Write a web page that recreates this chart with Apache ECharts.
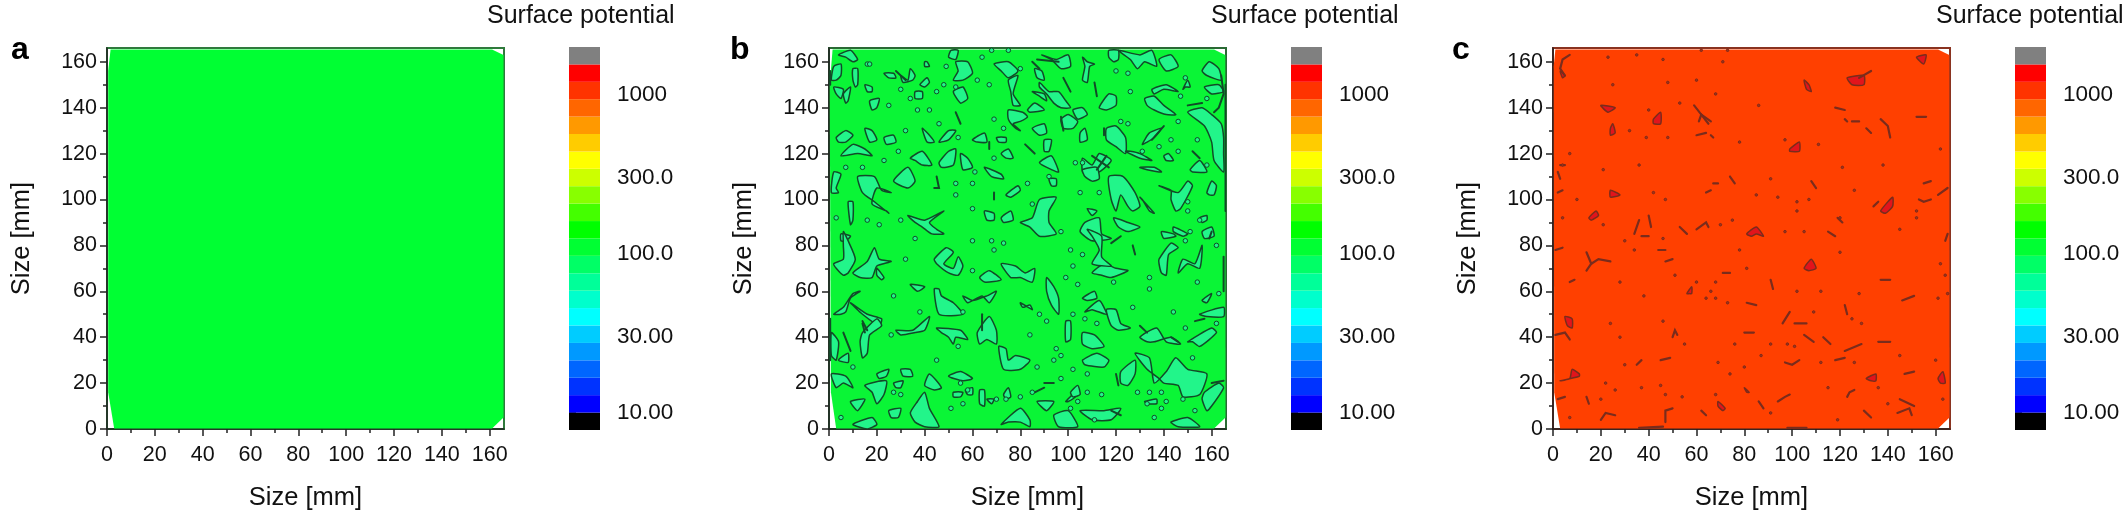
<!DOCTYPE html>
<html style="height: 100%">
<head>
<meta charset="utf-8">
<script src="https://cdn.jsdelivr.net/npm/echarts@6/dist/echarts.min.js"></script>
<title>Surface potential maps</title>
</head>
<body style="height: 100%; margin: 0; background: #fff">
<div id="container" style="width: 2125px; height: 512px"></div>
<script type="text/javascript">
// all map shapes are flat x,y lists in mm
const panelLetters = ['a', 'b', 'c'];
const majorTicks = [0, 20, 40, 60, 80, 100, 120, 140, 160];
const minorTicks = [10, 30, 50, 70, 90, 110, 130, 150];
const sizeMax = 166;

// colour bar: band edges in potential units, bottom to top
const bandEdges = [7.77, 10, 12.87, 16.55, 21.3, 27.4, 35.3, 45.4, 58.4, 75.1, 96.7, 124.4, 160, 206, 265, 341, 438, 564, 726, 934, 1201, 1545, 1988];
const bandColors = ['#000000', '#0000ff', '#0033ff', '#0066ff', '#0099ff', '#00ccff', '#00ffff', '#00ffcc', '#00ff99', '#00ff66', '#00ff33', '#00ff00', '#44ff00', '#88ff00', '#ccff00', '#ffff00', '#ffcc00', '#ff9900', '#ff6600', '#ff3300', '#ff0000', '#808080'];
const barTicks = [10, 30, 100, 300, 1000];
const barLabels = { 10: '10.00', 30: '30.00', 100: '100.0', 300: '300.0', 1000: '1000' };

const outlineA = [0.5, 156, 1.5, 165.4, 161, 165.4, 165.8, 163, 165.8, 5, 161, 0.2, 3, 0.2, 0.5, 16];
const outlineB = [0.3, 150, 1.5, 165.4, 161, 165.4, 165.7, 163, 165.8, 5, 161, 0.2, 3, 0.2, 0.8, 16];
const outlineC = [0.3, 158, 1, 165.4, 161, 165.4, 165.7, 163, 165.8, 5, 161, 0.2, 3, 0.2, 0.5, 16];

const islandsB = [
  [4,163,9,165,12,161,10,160,7,162], [51,165,54,165,53,161,50,162], [2,158,5,159,5,154,3,152,1,152], [10,157,12,157,12,150,11,149,10,152],
  [23,155,27,155,28,153,25,153], [30,154,33,152,34,157,36,154,35,152,31,151], [38,150,41,153,42,151,40,149], [40,160,41,160,42,158,40,158],
  [53,160,58,160,60,155,56,152,52,152,54,156], [69,159,75,160,79,156,75,153,72,156], [75,152,79,154,77,146,80,141,77,141,76,147],
  [89,163,95,161,100,163,101,158,97,157,93,161], [86,157,89,156,90,152,87,153], [106,162,108,160,111,159,109,158,108,151,106,152,107,158],
  [117,165,121,165,121,161,119,160,117,162], [121,165,130,163,135,165,137,158,132,160,129,157,126,161], [138,161,143,163,146,158,141,156],
  [156,156,159,160,163,157,164,152,158,154], [157,149,163,150,165,147,160,146], [135,148,141,150,146,147,140,148,136,146], [148,148,150,152,151,149,149,149],
  [132,144,136,145,140,141,145,137,141,137,136,139,133,141], [113,140,117,146,120,145,120,141,116,139], [88,151,92,147,96,147,99,143,101,140,97,140,94,142,91,146,88,149],
  [85,147,90,146,91,143,88,145], [17,143,21,144,20,140,18,139], [52,147,56,149,58,144,55,142], [36,147,39,147,39,144,36,144],
  [2,149,6,148,5,144,3,146], [6,146,9,149,8,143,7,142], [15,150,18,149,18,147,16,147], [75,139,81,138,83,136,80,134,77,133,80,130,78,131,75,135],
  [83,139,86,142,90,139,84,138], [102,139,106,140,108,137,104,135], [97,135,100,137,104,134,102,131,98,131], [85,131,90,133,91,129,88,128],
  [105,129,107,131,108,126,105,125], [116,131,120,132,124,127,124,120,120,123,116,126], [131,124,134,129,139,131,136,127,133,125],
  [150,138,156,140,160,137,164,133,165,127,165,120,165,112,161,117,160,125,157,132], [3,127,7,130,10,128,7,125,4,125], [15,131,18,130,20,126,17,125],
  [23,127,27,128,28,125,24,124], [39,131,42,128,44,125,41,125], [46,125,50,130,53,130,50,126], [60,126,65,129,66,125,62,125], [70,127,74,127,74,125,71,125],
  [5,119,10,124,15,122,18,119,12,120], [34,118,39,121,43,115,39,115,36,117], [46,116,50,121,53,122,52,115,47,114], [55,120,58,118,60,114,56,113],
  [72,120,75,122,77,118,74,118], [90,126,93,126,92,121,90,121], [88,116,93,119,96,112,93,113], [106,118,110,115,113,120,118,117,113,112,108,111,106,112],
  [124,121,130,118,135,117,130,120,126,121], [140,119,142,120,144,117,141,117], [151,113,155,117,158,112,152,112], [130,114,136,114,139,112,133,113],
  [65,114,72,111,73,109,68,110], [2,112,5,111,3,105,4,103,1,103], [12,110,19,110,22,104,26,103,20,105,18,98,24,95,25,94,19,99,14,103], [27,108,33,114,36,108,33,105],
  [74,102,79,106,80,104,76,101], [92,109,95,109,95,106,93,106], [106,113,112,114,113,109,110,108,107,110], [117,110,123,110,128,103,130,97,127,95,125,97,122,102,120,95,118,100],
  [138,106,146,103,150,108,152,106,147,96,145,95,143,100,143,104], [158,103,160,108,162,106,161,102,159,102], [130,101,136,94,134,95,131,100], [108,96,112,95,110,93],
  [119,92,125,90,130,88,125,86,121,88], [107,90,113,92,114,85,118,83,110,82,105,86], [80,90,85,92,88,100,95,101,92,95,92,90,95,85,88,84,84,88],
  [33,93,40,91,48,95,42,90,45,87,48,85,43,85,39,88,36,90], [8,99,10,99,10,91,9,89], [65,95,69,94,69,91,66,91], [72,92,76,95,77,91,73,90],
  [139,86,144,85,145,84,140,83], [144,88,150,85,148,84,144,86], [5,85,9,84,7,82,5,82], [155,92,158,93,158,91,156,90], [156,86,160,88,161,84,157,83],
  [6,86,8,82,11,74,8,68,6,67,3,70,2,72,6,74,6,80], [10,68,16,73,19,79,21,74,26,73,20,71,18,66,13,66], [20,70,23,66,22,65,20,67], [34,63,40,62,37,60],
  [44,74,49,79,52,77,48,72,52,70,54,75,56,71,54,67,50,68,45,72], [63,66,67,69,72,65,65,64], [72,72,78,71,82,68,86,70,85,64,80,66,76,66], [91,66,94,62,96,57,96,50,93,54,91,60],
  [106,57,111,60,112,57,108,56], [110,68,115,72,120,70,125,69,118,66,114,67], [138,74,143,81,146,79,142,76,141,67,139,68,138,72], [146,68,150,72,155,70,156,80,153,72,148,74],
  [108,87,114,84,114,75,118,71,110,72,113,78,110,84], [44,61,46,50,56,50,52,55,47,58,46,61], [56,58,60,56,66,58,70,60,67,55,64,58,58,55], [2,50,6,53,10,59,13,60,9,57,7,51,5,50],
  [9,55,16,50,22,48,21,45,14,50], [14,42,20,48,22,45,17,41,16,33,14,31,13,38], [28,43,35,43,42,49,40,43,36,42,30,41], [45,44,55,43,58,39,53,40,52,37,50,40,47,42],
  [62,42,67,49,70,43,70,37,66,39,63,37], [71,36,73,26,80,26,84,30,78,32,75,30,74,35], [80,55,85,52,84,54,81,53], [99,47,101,47,101,39,99,38], [106,42,111,41,115,36,110,35,106,37],
  [106,30,112,33,117,30,115,27,107,28], [116,52,120,52,122,46,126,44,121,43,118,45], [107,51,113,56,116,50,110,52], [122,25,128,30,128,24,125,19,122,20],
  [128,33,134,31,136,20,141,25,145,31,150,26,158,24,155,15,148,14,146,19,140,20,138,22,133,26], [157,16,163,20,165,18,160,10,158,8,156,13], [155,50,165,53,165,49,158,49],
  [150,38,160,44,162,42,155,36,152,38], [130,40,137,44,141,38,147,37,143,40,136,38,133,38], [15,19,24,21,23,15,20,11,18,16], [1,24,7,23,10,18,6,20,3,18], [9,12,15,13,12,8,10,10],
  [34,7,37,12,40,16,42,9,46,1,40,1,36,3], [10,2,18,5,20,2,16,0], [25,8,30,9,29,5,26,5], [40,19,42,24,47,18,44,17], [50,23,55,25,60,22,56,21], [63,17,65,17,65,10,63,11],
  [72,2,80,9,84,4,84,1,80,3,75,3], [87,12,94,12,91,8], [94,6,100,8,104,1,96,1], [105,8,115,8,122,9,118,4,110,4], [99,12,104,17,103,14,100,12], [143,3,150,5,155,1,146,1],
  [27,20,31,21,30,18,28,18], [52,16,56,16,55,14,52,14], [57,17,60,18,60,15,58,15], [66,13,69,13,68,11], [73,15,75,18,76,14,74,13], [101,16,104,19,105,15,102,14],
  [132,12,137,13,137,11,133,11], [156,56,160,59,158,55], [1,42,4,38,3,30,1,32], [4,30,8,33,8,29], [20,24,25,26,24,23,21,22], [30,26,34,26,35,23,31,23]
];
const cracksB = [
  [85,160,88,157], [87,161,96,160], [98,153,101,147], [111,151,112,145], [150,141,156,142], [164,154,165,146,163,140,161,138], [115,131,115,128], [97,136,98,130],
  [53,138,55,133], [67,125,67,122], [45,110,46,105,44,105], [110,119,117,114], [116,119,112,113], [82,124,86,120], [152,121,155,118], [69,103,69,100], [135,126,140,132],
  [160,86,159,83], [14,47,16,43], [6,42,9,34], [64,50,64,43], [120,24,121,19], [127,80,128,76], [153,47,157,48], [130,45,133,42], [143,40,146,38], [14,46,15,42],
  [165,75,165,60], [118,81,122,84], [90,20,94,20], [28,156,32,152], [86,16,90,18], [118,8,122,6], [160,20,165,21], [0.5,150,0.5,156], [0.5,30,0.5,48], [165.8,95,165.8,150]
];
const pitsB = [
  [16,159],[49,158],[62,152],[67,150],[48,150],[53,149],[45,147],[30,148],[34,144],[25,141],[37,139],[42,139],[46,133],[32,130],[54,127],[29,121],[23,117],[7,114],[14,114],
  [61,112],[69,118],[73,131],[69,135],[60,107],[53,107],[53,102],[60,96],[83,107],[85,98],[103,116],[106,116],[92,110],[105,103],[113,103],[138,123],[143,126],[154,126],
  [146,121],[131,121],[158,115],[150,99],[150,95],[122,134],[125,133],[146,134],[126,147],[125,155],[120,156],[158,144],[147,145],[149,153],[80,157],[64,162],[68,165],
  [75,165],[17,159],[97,86],[151,86],[155,91],[3,92],[16,91],[30,91],[21,89],
  [32,74],[36,83],[60,82],[69,78],[73,81],[101,78],[102,71],[106,76],[68,82],[60,69],[99,66],[104,63],[119,64],[134,66],[134,61],[163,59],[162,80],[149,82],[27,58],[38,51],
  [56,51],[88,50],[91,47],[102,50],[107,48],[112,46],[127,53],[144,51],[149,44],[162,46],[84,41],[26,41],[54,36],[95,35],[97,32],[94,30],[102,26],[87,27],[10,27],[45,30],
  [152,31],[108,24],[97,22],[55,20],[30,15],[27,16],[58,17],[70,13],[74,13],[80,14],[85,16],[114,15],[129,16],[134,16],[139,16],[141,12],[133,11],[148,13],[136,5],[139,9],
  [153,8],[5,5],[56,11],[51,9],[104,12],[108,16],[101,9],[111,4],[154,64]
];

const islandsC = [
  [152,162,156,163,155,159], [123,153,130,154,130,150,125,150], [105,152,107,150,108,147,106,148], [20,141,26,140,23,138], [42,135,45,138,45,133,42,133],
  [24,131,25,133,26,129,24,128], [99,122,103,125,103,121,99,121], [24,104,28,102,24,101], [15,92,18,95,19,93,16,91], [5,49,8,48,8,44,6,45],
  [3,21,7,22,8,26,11,24,11,23], [137,95,142,101,142,97,139,94], [81,85,85,88,88,84,85,85,83,84], [105,70,108,74,110,70,107,69], [56,59,58,62,58,59,57,59],
  [131,22,135,24,135,21,133,21], [161,22,163,25,164,20,162,20], [69,12,72,9,71,8,69,10], [80,18,82,16,81,16], [3,156,5,154,4,153]
];
const cracksC = [
  [7,163,4,161,3,157,5,154], [128,153,133,156], [59,141,62,137,66,134], [62,137,61,134], [62,137,65,133], [137,135,140,132,141,127], [131,131,133,129], [118,140,122,139],
  [122,135,123,134], [125,134,128,134], [152,136,156,136], [60,128,64,129], [66,128,67,127], [74,110,76,107], [14,77,16,72,19,74,24,73], [16,72,14,69], [34,85,36,91],
  [40,93,41,88], [53,88,56,85], [60,87,64,90,65,88], [37,84,40,84], [44,78,47,78], [47,73,50,74], [71,68,74,68], [91,65,92,61], [146,56,151,58], [122,54,123,50], [96,46,99,51],
  [101,46,106,46], [81,55,85,54], [80,42,84,42], [50,40,51,43,52,41], [105,41,109,38], [113,40,116,37], [122,34,129,37], [136,38,141,38], [97,29,100,28,103,30], [118,30,122,31],
  [45,30,49,31], [147,24,151,25], [35,28,37,30], [14,14,15,11], [20,4,22,7,26,6], [47,3,47,8,50,9], [62,8,64,6], [86,12,88,9], [94,12,97,14,99,15], [123,14,124,16,126,17],
  [130,8,133,5], [145,13,151,10], [144,7,149,9,150,6], [2,13,5,14], [1,41,5,42,7,39], [3,115,5,115], [2,112,3,109], [2,103,4,104], [1,78,4,79], [7,64,9,65], [153,100,155,99,158,100],
  [161,102,165,105], [137,65,141,65], [155,107,158,108], [108,108,110,105], [64,103,66,104], [67,107,69,107], [134,97,136,99], [164,82,165,85], [119,92,121,90], [115,86,118,84],
  [36,0.5,46,1], [98,0.5,106,0.5]
];
const pitsC = [
  [23,162],[35,163],[46,161],[62,165],[73,165],[71,160],[60,152],[48,151],[25,150],[68,146],[86,141],[53,142],[40,139],[32,130],[48,127],[39,127],[78,125],[97,126],[111,124],
  [121,114],[138,115],[162,122],[21,113],[36,115],[7,120],[4,115],[91,109],[42,103],[10,100],[47,100],[94,101],[102,99],[107,100],[102,95],[85,102],[126,104],[4,92],[21,89],
  [70,89],[75,91],[97,86],[105,86],[120,92],[152,95],[152,92],[145,87],[30,82],[34,78],[46,83],[78,78],[120,77],[81,70],[162,72],[164,67],[28,64],[51,67],[68,64],[60,64],[66,60],
  [68,57],[64,57],[73,55],[102,60],[38,58],[128,59],[165,59],[161,57],[112,60],[109,51],[46,47],[24,46],[125,48],[129,46],[28,40],[55,37],[76,37],[91,37],[98,37],[101,36],[145,32],
  [69,29],[112,29],[126,29],[30,28],[87,32],[160,30],[80,27],[74,24],[22,20],[26,17],[37,18],[45,19],[47,15],[136,18],[20,13],[54,14],[68,15],[115,18],[140,11],[163,13],[119,4],[7,5],[91,7]
];

const panelStyles = [
  { base: '#00ff33', frame: '#2f7a3c', outline: outlineA, islands: [], cracks: [], pits: [], fill: '#22f58a', edge: '#14502c', pit: 2, pitFill: '#22f58a', crack: 2 },
  { base: '#0af536', frame: '#2a6a34', outline: outlineB, islands: islandsB, cracks: cracksB, pits: pitsB, fill: '#22f58a', edge: '#124a28', pit: 4.5, pitFill: '#22f58a', crack: 2 },
  { base: '#ff4000', frame: '#8a3320', outline: outlineC, islands: islandsC, cracks: cracksC, pits: pitsC, fill: '#e2141c', edge: '#7a2c1c', pit: 2.5, pitFill: '#a83018', crack: 2.2 }
];
const mapLefts = [107, 829, 1553];
const barLefts = [569, 1291, 2015];
const titleLefts = [482, 1206, 1931];
const letterLefts = [6, 725, 1447];

const font = '"Liberation Sans", Arial, sans-serif';
const pairs = flat => flat.reduce((out, v, i) => { if (i % 2 === 0) out.push([v, flat[i + 1]]); return out; }, []);

function shapeSeries(xi, polys, closed, fill, stroke, width, z, smooth) {
  return {
    type: 'custom', xAxisIndex: xi, yAxisIndex: xi, silent: true, z: z, clip: true,
    data: polys.map((p, i) => [i]),
    renderItem: (params, api) => {
      const points = pairs(polys[params.dataIndex]).map(p => api.coord(p));
      return {
        type: closed ? 'polygon' : 'polyline',
        shape: { points: points, smooth: smooth },
        style: closed ? { fill: fill, stroke: stroke, lineWidth: width, lineJoin: 'round' } : { fill: null, stroke: stroke, lineWidth: width, lineCap: 'round' }
      };
    }
  };
}

const grid = [], xAxis = [], yAxis = [], series = [], title = [];

function addAxis(list, grid_i, pos, withLabels, name) {
  const ticks = withLabels ? majorTicks : minorTicks;
  list.push({
    type: 'value', gridIndex: grid_i, position: pos, min: 0, max: sizeMax, interval: 20,
    name: name, nameLocation: 'middle', nameGap: pos === 'bottom' ? 56 : 72,
    nameTextStyle: { fontFamily: font, fontSize: 25.5, color: '#111' },
    splitLine: { show: false },
    axisLine: { show: withLabels, onZero: false, lineStyle: { color: '#222', width: 1.5 } },
    axisTick: { show: true, length: withLabels ? 7 : 4, customValues: ticks, lineStyle: { color: '#222', width: 1.5 } },
    axisLabel: { show: withLabels, customValues: withLabels ? majorTicks : [], margin: pos === 'bottom' ? 15 : 10, fontFamily: font, fontSize: 21.5, color: '#111' }
  });
}

panelStyles.forEach((style, i) => {
  // map grid plus a second axis pair that only carries the short ticks
  grid.push({ left: mapLefts[i], width: 397, top: 48, height: 381, outerBoundsMode: 'none', show: true, borderColor: style.frame, borderWidth: 2, backgroundColor: '#fff' });
  grid.push({ left: mapLefts[i], width: 397, top: 48, height: 381, outerBoundsMode: 'none' });
  grid.push({ left: barLefts[i], width: 31, top: 47, height: 383, outerBoundsMode: 'none' });
  const g = i * 3;
  addAxis(xAxis, g, 'bottom', true, 'Size [mm]');
  addAxis(yAxis, g, 'left', true, 'Size [mm]');
  addAxis(xAxis, g + 1, 'bottom', false, '');
  addAxis(yAxis, g + 1, 'left', false, '');
  xAxis.push({ type: 'value', gridIndex: g + 2, min: 0, max: 1, show: false });
  yAxis.push({
    type: 'log', gridIndex: g + 2, position: 'right', min: bandEdges[0], max: bandEdges[bandEdges.length - 1],
    splitLine: { show: false }, minorTick: { show: false },
    axisLine: { show: false },
    axisTick: { show: true, length: 7, customValues: barTicks, lineStyle: { color: '#222', width: 1.5 } },
    axisLabel: { customValues: barTicks, margin: 17, fontFamily: font, fontSize: 22.5, color: '#111', formatter: v => barLabels[Math.round(v)] }
  });

  series.push(shapeSeries(g, [style.outline], true, style.base, style.base, 0, 2, 0));
  series.push(shapeSeries(g, style.islands, true, style.fill, style.edge, 1.5, 3, 0.2));
  series.push(shapeSeries(g, style.cracks, false, null, style.edge, style.crack, 4, 0));
  series.push({
    type: 'scatter', xAxisIndex: g, yAxisIndex: g, silent: true, z: 4, symbolSize: style.pit, data: style.pits,
    itemStyle: { color: style.pitFill, borderColor: style.edge, borderWidth: 1, opacity: 1 }
  });
  series.push({
    type: 'custom', xAxisIndex: g + 2, yAxisIndex: g + 2, silent: true, z: 3,
    data: bandColors.map((c, b) => [0, 1, bandEdges[b], bandEdges[b + 1]]),
    renderItem: (params, api) => {
      const a = api.coord([api.value(0), api.value(2)]);
      const b = api.coord([api.value(1), api.value(3)]);
      return { type: 'rect', shape: { x: a[0], y: b[1], width: b[0] - a[0], height: a[1] - b[1] }, style: { fill: bandColors[params.dataIndex], lineWidth: 0 } };
    }
  });

  title.push({ text: 'Surface potential', left: titleLefts[i], top: -1, textStyle: { fontFamily: font, fontSize: 25, fontWeight: 'normal', color: '#111' } });
  title.push({ text: panelLetters[i], left: letterLefts[i], top: 29, textStyle: { fontFamily: font, fontSize: 32, fontWeight: 'bold', color: '#000' } });
});

const chart = echarts.init(document.getElementById('container'));
chart.setOption({ animation: false, backgroundColor: '#fff', title, grid, xAxis, yAxis, series });
</script>
</body>
</html>
